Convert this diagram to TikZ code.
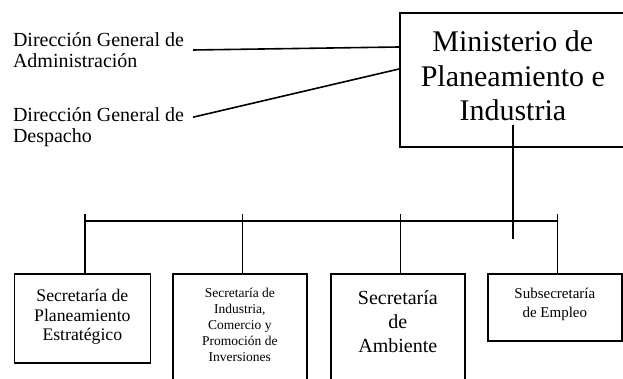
\documentclass[tikz,border=0pt]{standalone}
\usepackage{fontspec}
\setmainfont{Liberation Serif}

\begin{document}
\begin{tikzpicture}[x=1pt,y=-1pt,
    caja/.style={draw, line width=1.7pt, inner xsep=0pt, align=center},
    rotulo/.style={inner sep=0pt, outer xsep=9pt, align=left, anchor=west,
      font=\fontsize{20}{21.7}\selectfont},
    linea/.style={line width=1.6pt}]
    \useasboundingbox (0,0) rectangle (623,379);
    % Ministerio (borde derecho fuera de la hoja)
    \node[caja, anchor=north west, inner ysep=0pt, minimum width=226pt, minimum height=134pt,
      text depth=8pt, font=\fontsize{30}{34.5}\selectfont] (mpi) at (399,12)
      {Ministerio de\\Planeamiento e\\Industria};
    \node[rotulo] (dga) at (4,50) {Dirección General de\\Administración};
    \node[rotulo] (dgd) at (4,127.2) {Dirección General de\\Despacho};
    \draw[linea] (dga.east) -- ([yshift=-35pt]mpi.north west);  %Administración
    \draw[linea] ([yshift=10pt]dgd.east) -- ([yshift=-57pt]mpi.north west);  %Despacho
    % Secretarías
    \node[caja, anchor=north west, minimum width=136pt, inner ysep=15.5pt, text depth=6.7pt,
      font=\fontsize{17.7}{19.5}\selectfont] (spe) at (13.5,273)
      {Secretaría de\\Planeamiento\\Estratégico};
    \node[caja, anchor=north west, minimum width=134pt, inner ysep=14.5pt, text depth=80pt,
      font=\fontsize{13.5}{16}\selectfont] (sicpi) at (172,273)
      {Secretaría de\\Industria,\\Comercio y\\Promoción de\\Inversiones};
    \node[caja, anchor=north west, minimum width=134pt, inner ysep=16.5pt, text depth=80pt,
      font=\fontsize{20}{24}\selectfont] (sa) at (330,273)
      {Secretaría\\de\\Ambiente};
    \node[caja, anchor=north west, minimum width=134pt, inner ysep=14.3pt, text depth=9pt,
      font=\fontsize{15}{19}\selectfont] (se) at (487,273)
      {Subsecretaría\\de Empleo};
    % Bus
    \draw[linea] ([yshift=23pt]mpi.south) -- ++(0,114);  %Bajada del Ministerio
    \draw[linea] ([xshift=2.5pt,yshift=52pt]spe.north) -- ([xshift=2.5pt,yshift=52pt]se.north);
    \foreach \n in {spe,sicpi,sa,se}
    {
      \draw[linea] ([xshift=2.5pt]\n.north) -- ++(0,-59);
    };
\end{tikzpicture}
\end{document}
